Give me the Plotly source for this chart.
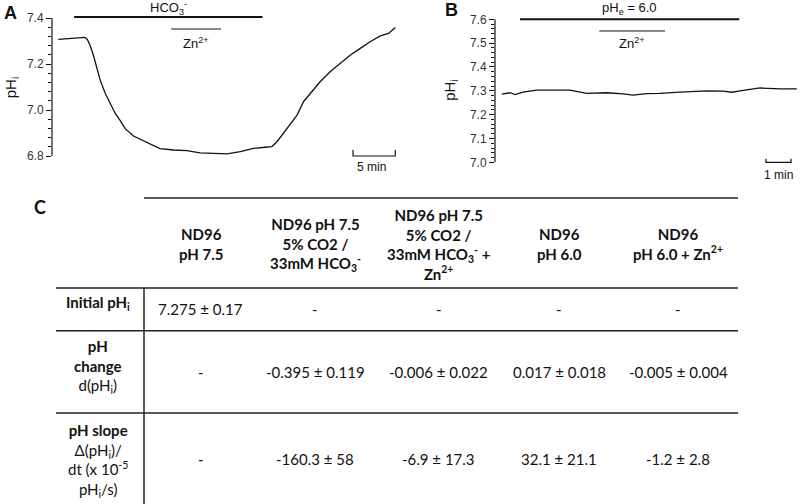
import numpy as np
import plotly.graph_objects as go

W, H = 800, 504

# Panel A: pHi trace, HCO3- then Zn2+ (time in min)
a_time = [0, 1.0, 2.15, 3.1, 3.4, 3.7, 4.1, 4.5, 4.9, 5.5, 6.05, 6.65, 7.25, 7.8, 8.8,
          9.8, 10.75, 11.9, 13.5, 15.05, 16.6, 18.15, 19.75, 21.3, 22.85, 24.2, 25.0,
          25.6, 26.35, 27.15, 27.95, 28.7, 29.5, 30.65, 31.85, 33.0, 34.2, 35.35, 36.5,
          37.7, 38.65, 39.45]
a_phi = [7.307, 7.309, 7.312, 7.316, 7.307, 7.283, 7.239, 7.188, 7.130, 7.072, 7.029,
         6.986, 6.954, 6.920, 6.887, 6.870, 6.852, 6.832, 6.826, 6.823, 6.814, 6.810,
         6.809, 6.819, 6.833, 6.838, 6.841, 6.862, 6.899, 6.935, 6.978, 7.036, 7.072,
         7.123, 7.167, 7.203, 7.239, 7.268, 7.297, 7.322, 7.333, 7.359]
a_hco3 = [1.85, 23.9]
a_zn = [13.2, 19.05]
a_scale = [34.5, 39.45]   # 5 min

# Panel B: pHi trace, pHe 6.0 then Zn2+
b_time = [0.03, 0.36, 0.56, 0.88, 1.43, 2.23, 2.76, 3.43, 4.23, 4.88, 5.28, 5.83, 6.36,
          7.16, 8.23, 8.88, 9.23, 9.56, 10.36, 11.16, 11.83]
b_phi = [7.286, 7.292, 7.284, 7.295, 7.303, 7.303, 7.303, 7.289, 7.292, 7.287, 7.282,
         7.288, 7.289, 7.295, 7.300, 7.299, 7.294, 7.300, 7.312, 7.308, 7.308]
b_phe = [0.76, 9.53]
b_zn = [3.93, 6.56]
b_scale = [10.6, 11.6]    # 1 min

# Panel C: summary table
conditions = [
    "<b>ND96<br>pH 7.5</b>",
    "<b>ND96 pH 7.5<br>5% CO2 /<br>33mM HCO<sub>3</sub><sup>-</sup></b>",
    "<b>ND96 pH 7.5<br>5% CO2 /<br>33mM HCO<sub>3</sub><sup>-</sup> +<br>Zn<sup>2+</sup></b>",
    "<b>ND96<br>pH 6.0</b>",
    "<b>ND96<br>pH 6.0 + Zn<sup>2+</sup></b>",
]
row_labels = [
    "<b>Initial pH<sub>i</sub></b>",
    "<b>pH<br>change</b><br>d(pH<sub>i</sub>)",
    "<b>pH slope</b><br>Δ(pH<sub>i</sub>)/<br>dt (x 10<sup>-5</sup><br>pH<sub>i</sub>/s)",
]
initial_phi = ["7.275 ± 0.17", "-", "-", "-", "-"]
ph_change = ["-", "-0.395 ± 0.119", "-0.006 ± 0.022", "0.017 ± 0.018", "-0.005 ± 0.004"]
ph_slope = ["-", "-160.3 ± 58", "-6.9 ± 17.3", "32.1 ± 21.1", "-1.2 ± 2.8"]

_INK = "#111111"
_GREY = "#8a8a8a"
_AX_FONT = "Liberation Sans, Arial, sans-serif"
_TAB_FONT = "Lato, sans-serif"


def px(x):
    return x / W


def py(y):
    return 1 - y / H


fig = go.Figure()

fig.add_trace(go.Scatter(x=a_time, y=a_phi, mode="lines", xaxis="x", yaxis="y",
                         line=dict(color=_INK, width=1.3), showlegend=False))
fig.add_trace(go.Scatter(x=b_time, y=b_phi, mode="lines", xaxis="x2", yaxis="y2",
                         line=dict(color=_INK, width=1.3), showlegend=False))

a_minor = [round(v, 2) for v in np.arange(6.84, 7.4, 0.04) if round(v, 2) not in (7.0, 7.2)]
b_minor = [round(v, 2) for v in np.arange(7.02, 7.6, 0.02) if abs(v * 10 - round(v * 10)) > 0.05]

yax = dict(showline=False, showgrid=False, zeroline=False, ticks="outside", ticklen=5,
           tickcolor=_INK, tickwidth=1, tickfont=dict(family=_AX_FONT, size=12, color="#333"),
           title_font=dict(family=_AX_FONT, size=15, color=_INK))
fig.update_layout(
    xaxis=dict(domain=[px(52), px(400)], range=[-0.74, 40.0], visible=False),
    yaxis=dict(domain=[py(175), 1], range=[6.7174, 7.4783], anchor="x",
               tickvals=[6.8, 7.0, 7.2, 7.4], ticktext=["6.8", "7.0", "7.2", "7.4"],
               minor=dict(tickvals=a_minor, ticks="outside", ticklen=3, tickcolor=_INK),
               title=dict(text="pH<sub>i</sub>", standoff=6), **yax),
    xaxis2=dict(domain=[px(495), 1], range=[-0.24, 11.96], visible=False, anchor="y2"),
    yaxis2=dict(domain=[py(180), 1], range=[6.926, 7.681], anchor="x2",
                tickvals=[7.0, 7.1, 7.2, 7.3, 7.4, 7.5, 7.6],
                ticktext=["7.0", "7.1", "7.2", "7.3", "7.4", "7.5", "7.6"],
                minor=dict(tickvals=b_minor, ticks="outside", ticklen=3, tickcolor=_INK),
                title=dict(text="pH<sub>i</sub>", standoff=10), **yax),
)

shapes = []
# axis spines
shapes.append(dict(type="line", xref="x domain", yref="y", x0=0, x1=0, y0=6.8, y1=7.4,
                   line=dict(color=_INK, width=1.2)))
shapes.append(dict(type="line", xref="x2 domain", yref="y2", x0=0, x1=0, y0=7.0, y1=7.6,
                   line=dict(color=_INK, width=1.2)))
# perfusion bars
shapes.append(dict(type="line", xref="x", yref="y", x0=a_hco3[0], x1=a_hco3[1], y0=7.404, y1=7.404,
                   line=dict(color=_INK, width=2)))
shapes.append(dict(type="line", xref="x", yref="y", x0=a_zn[0], x1=a_zn[1], y0=7.352, y1=7.352,
                   line=dict(color=_GREY, width=2)))
shapes.append(dict(type="line", xref="x2", yref="y2", x0=b_phe[0], x1=b_phe[1], y0=7.6, y1=7.6,
                   line=dict(color=_INK, width=2)))
shapes.append(dict(type="line", xref="x2", yref="y2", x0=b_zn[0], x1=b_zn[1], y0=7.551, y1=7.551,
                   line=dict(color=_GREY, width=2)))
# scale bars
shapes.append(dict(type="path", xref="x", yref="y",
                   path=f"M {a_scale[0]},6.826 L {a_scale[0]},6.8 L {a_scale[1]},6.8 L {a_scale[1]},6.826",
                   line=dict(color=_INK, width=1.2)))
shapes.append(dict(type="path", xref="x2", yref="y2",
                   path=f"M {b_scale[0]},7.015 L {b_scale[0]},7.0 L {b_scale[1]},7.0 L {b_scale[1]},7.015",
                   line=dict(color=_INK, width=1.2)))

ann = []
lab = dict(family=_AX_FONT, size=13, color=_INK)
ann.append(dict(xref="x", yref="y", x=sum(a_hco3) / 2, y=7.443, text="HCO<sub>3</sub><sup>-</sup>",
                showarrow=False, font=lab))
ann.append(dict(xref="x", yref="y", x=sum(a_zn) / 2, y=7.293, text="Zn<sup>2+</sup>",
                showarrow=False, font=lab))
ann.append(dict(xref="x2", yref="y2", x=sum(b_phe) / 2, y=7.644, text="pH<sub>e</sub> = 6.0",
                showarrow=False, font=lab))
ann.append(dict(xref="x2", yref="y2", x=sum(b_zn) / 2, y=7.502, text="Zn<sup>2+</sup>",
                showarrow=False, font=lab))
ann.append(dict(xref="x", yref="y", x=sum(a_scale) / 2 - 0.3, y=6.752, text="5 min",
                showarrow=False, font=dict(family=_AX_FONT, size=12, color=_INK)))
ann.append(dict(xref="x2", yref="y2", x=sum(b_scale) / 2, y=6.946, text="1 min",
                showarrow=False, font=dict(family=_AX_FONT, size=12, color=_INK)))

# panel letters
for letter, x, y, fam in [("A", 10, 13, _AX_FONT), ("B", 451, 10, _AX_FONT), ("C", 40, 207, _TAB_FONT)]:
    ann.append(dict(xref="paper", yref="paper", x=px(x), y=py(y), text=f"<b>{letter}</b>",
                    xanchor="center", yanchor="middle",
                    showarrow=False, font=dict(family=fam, size=18, color=_INK)))

# table layout (pixel positions)
COL_X = [98, 201, 315, 439, 559, 678]
HEADER_Y = 244
LABEL_Y = [303, 366, 460]
VALUE_Y = [309, 372, 459]
tab_font = dict(family=_TAB_FONT, size=15, color=_INK)
cell = dict(xref="paper", yref="paper", xanchor="center", yanchor="middle",
            showarrow=False, font=tab_font, align="center")

for cx, txt in zip(COL_X[1:], conditions):
    ann.append(dict(x=px(cx), y=py(HEADER_Y), text=txt, **cell))
for ly, txt in zip(LABEL_Y, row_labels):
    ann.append(dict(x=px(COL_X[0]), y=py(ly), text=txt, **cell))
for vy, row in zip(VALUE_Y, [initial_phi, ph_change, ph_slope]):
    for cx, txt in zip(COL_X[1:], row):
        ann.append(dict(x=px(cx), y=py(vy), text=txt, **cell))

# table rules
rule = dict(color="#222", width=1.5)
for x0, y in [(144, 198), (56, 288), (56, 330.7), (56, 413)]:
    shapes.append(dict(type="line", xref="paper", yref="paper", x0=px(x0), x1=px(738),
                       y0=py(y), y1=py(y), line=rule))
shapes.append(dict(type="line", xref="paper", yref="paper", x0=px(144), x1=px(144),
                   y0=py(288), y1=py(504), line=rule))

fig.update_layout(
    width=W, height=H,
    margin=dict(l=0, r=0, t=0, b=0),
    plot_bgcolor="white", paper_bgcolor="white",
    shapes=shapes, annotations=ann,
    showlegend=False,
)

# drop the browser's default 8px body margin so the figure sits at the page origin
fig.write_html("out.html", config={"displayModeBar": False},
               post_script="document.body.style.margin='0';")
